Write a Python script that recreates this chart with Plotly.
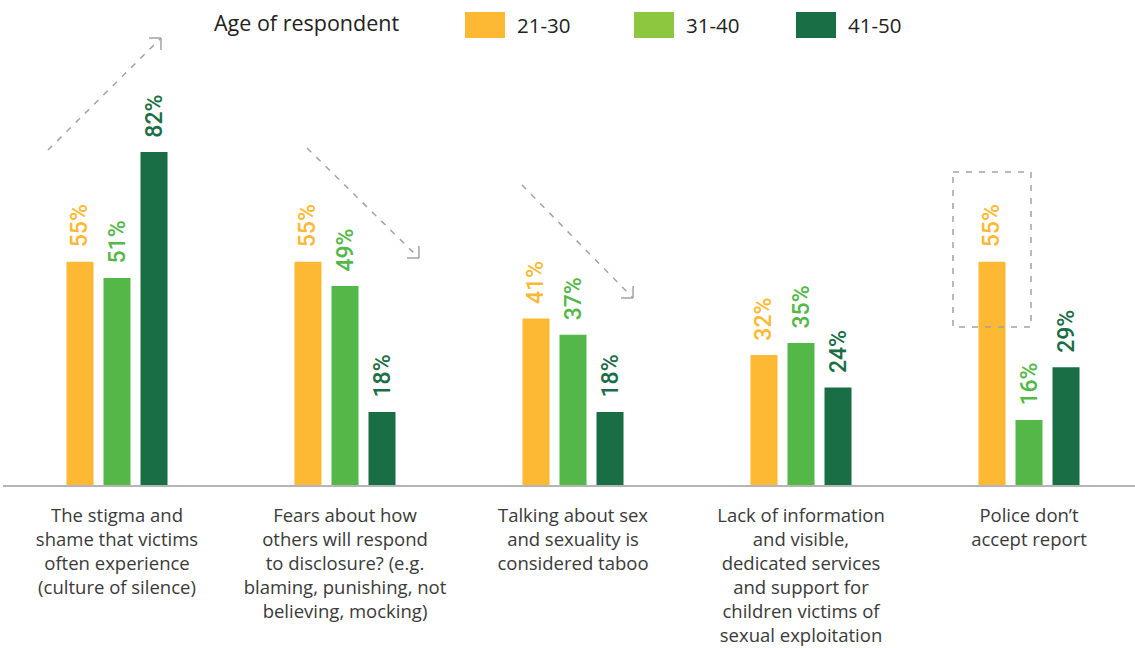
import math
import plotly.graph_objects as go

categories = [
    "The stigma and<br>shame that victims<br>often experience<br>(culture of silence)",
    "Fears about how<br>others will respond<br>to disclosure? (e.g.<br>blaming, punishing, not<br>believing, mocking)",
    "Talking about sex<br>and sexuality is<br>considered taboo",
    "Lack of information<br>and visible,<br>dedicated services<br>and support for<br>children victims of<br>sexual exploitation",
    "Police don\u2019t<br>accept report",
]
series_names = ["21-30", "31-40", "41-50"]
values_21_30 = [55, 55, 41, 32, 55]
values_31_40 = [51, 49, 37, 35, 16]
values_41_50 = [82, 18, 18, 24, 29]
series_values = [values_21_30, values_31_40, values_41_50]
bar_colors = ["#FDB933", "#53B848", "#1A6E46"]
legend_colors = ["#FDB933", "#8DC63F", "#1A6E46"]

W, H = 1135, 648
L, R, T, B = 3, 0, 30, 163
PW, PH = W - L - R, H - T - B
CAT_PX = 228.0     # pixel spacing between category centres
PX_PER_PCT = 4.06
FONT = "Open Sans"

def px(xp):
    return (xp - L) / PW

def py(yp):
    return (H - B - yp) / PH

fig = go.Figure()
xs = list(range(len(categories)))
for name, vals, col in zip(series_names, series_values, bar_colors):
    fig.add_trace(go.Bar(
        x=xs, y=vals, name=name, marker_color=col, marker_line_width=0,
        text=["\u00a0\u00a0" + f"{v}%" for v in vals],
        textposition="outside", textangle=-90, constraintext="none",
        textfont=dict(color=col, size=23, family="Roboto", weight=500),
        cliponaxis=False, showlegend=False,
    ))

shapes = []
annotations = []
grey = "#a3a3a3"

def dashed_arrow(x0, y0, x1, y1):
    shapes.append(dict(type="line", xref="paper", yref="paper",
                       x0=px(x0), y0=py(y0), x1=px(x1), y1=py(y1),
                       line=dict(color=grey, width=1.5, dash="6px,7px")))
    dx, dy = x0 - x1, y0 - y1
    n = math.hypot(dx, dy)
    ux, uy = dx / n, dy / n
    arm = 12
    for ang in (math.pi / 4, -math.pi / 4):
        c, s = math.cos(ang), math.sin(ang)
        rx, ry = ux * c - uy * s, ux * s + uy * c
        shapes.append(dict(type="line", xref="paper", yref="paper",
                           x0=px(x1), y0=py(y1), x1=px(x1 + rx * arm), y1=py(y1 + ry * arm),
                           line=dict(color=grey, width=1.5)))

dashed_arrow(48, 150, 161, 38)
dashed_arrow(307, 148, 419, 258)
dashed_arrow(522, 185, 633, 298)
shapes.append(dict(type="rect", xref="paper", yref="paper",
                   x0=px(953), y0=py(172), x1=px(1031), y1=py(327),
                   line=dict(color=grey, width=1.5, dash="6px,7px")))

# custom legend
annotations.append(dict(text="Age of respondent", xref="paper", yref="paper",
                        x=px(212), y=py(22), xanchor="left", yanchor="middle",
                        showarrow=False, font=dict(size=21.5, family=FONT, color="#222222")))
sw_x = [465, 634, 796]
for name, col, xs0 in zip(series_names, legend_colors, sw_x):
    shapes.append(dict(type="rect", xref="paper", yref="paper",
                       x0=px(xs0), x1=px(xs0 + 40), y0=py(38), y1=py(12),
                       fillcolor=col, line=dict(width=0)))
    annotations.append(dict(text=name, xref="paper", yref="paper",
                            x=px(xs0 + 50), y=py(25), xanchor="left", yanchor="middle",
                            showarrow=False, font=dict(size=20.5, family=FONT, color="#222222")))

fig.update_layout(
    width=W, height=H,
    margin=dict(l=L, r=R, t=T, b=B),
    paper_bgcolor="white", plot_bgcolor="white",
    barmode="group", bargap=0.513, bargroupgap=0.27,
    font=dict(family=FONT, size=18.5, color="#3a3a3a"),
    shapes=shapes, annotations=annotations,
    showlegend=False,
    xaxis=dict(tickvals=xs, ticktext=categories, range=[-0.5, -0.5 + PW / CAT_PX],
               showline=True, linecolor="#b5b5b5", linewidth=2, showgrid=False,
               zeroline=False, ticks="", ticklabelstandoff=13,
               tickfont=dict(size=18.5, family=FONT, color="#3a3a3a"), fixedrange=True),
    yaxis=dict(range=[0, PH / PX_PER_PCT], visible=False, showgrid=False, zeroline=False, fixedrange=True),
)

fig.write_html("out.html", config={"displayModeBar": False},
               post_script="document.body.style.margin='0';document.body.style.overflow='hidden';")
